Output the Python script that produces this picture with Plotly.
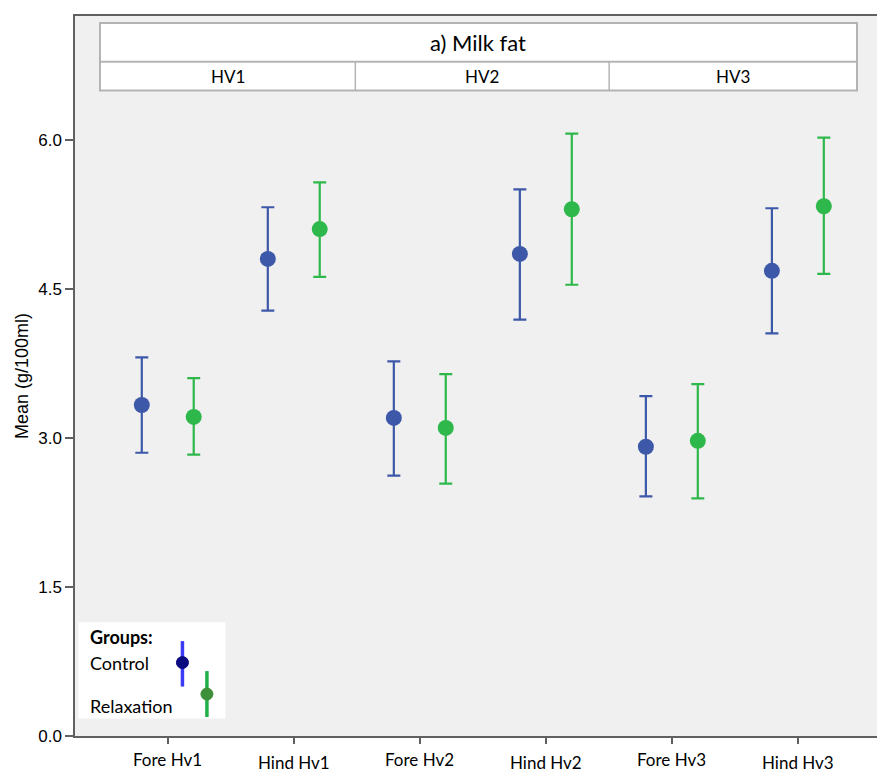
import plotly.graph_objects as go

categories = ["Fore Hv1", "Hind Hv1", "Fore Hv2", "Hind Hv2", "Fore Hv3", "Hind Hv3"]
control_mean = [3.33, 4.80, 3.20, 4.85, 2.91, 4.68]
control_upper = [3.81, 5.32, 3.77, 5.50, 3.42, 5.31]
control_lower = [2.85, 4.28, 2.62, 4.19, 2.41, 4.05]
relax_mean = [3.21, 5.10, 3.10, 5.30, 2.97, 5.33]
relax_upper = [3.60, 5.57, 3.64, 6.06, 3.54, 6.02]
relax_lower = [2.83, 4.62, 2.54, 4.54, 2.39, 4.65]
y_ticks = [0.0, 1.5, 3.0, 4.5, 6.0]
panel_labels = ["HV1", "HV2", "HV3"]
title_text = "a) Milk fat"

W, H = 877, 772
L, R, T, B = 74.5, 0, 15.7, 35.5
PW, PH = W - L - R, H - T - B

def px(x):
    return (x - L) / PW

def py(y):
    return (H - B - y) / PH

C_BLUE = "#3d58a8"
C_GREEN = "#2eb84b"
idx = list(range(len(categories)))
off = 0.206

fig = go.Figure()
fig.add_trace(go.Scatter(
    x=[i - off for i in idx], y=control_mean, mode="markers",
    marker=dict(color=C_BLUE, size=16),
    error_y=dict(type="data", symmetric=False,
                 array=[u - m for u, m in zip(control_upper, control_mean)],
                 arrayminus=[m - l for m, l in zip(control_mean, control_lower)],
                 color=C_BLUE, thickness=2.2, width=6.5),
    showlegend=False, name="Control"))
fig.add_trace(go.Scatter(
    x=[i + off for i in idx], y=relax_mean, mode="markers",
    marker=dict(color=C_GREEN, size=16),
    error_y=dict(type="data", symmetric=False,
                 array=[u - m for u, m in zip(relax_upper, relax_mean)],
                 arrayminus=[m - l for m, l in zip(relax_mean, relax_lower)],
                 color=C_GREEN, thickness=2.2, width=6.5),
    showlegend=False, name="Relaxation"))

shapes = []
annotations = []
# header box
hx0, hx1 = px(99.5), px(857)
hy0, hym, hy1 = py(22.7), py(61.5), py(90.3)
shapes.append(dict(type="rect", xref="paper", yref="paper", x0=hx0, x1=hx1, y0=hy1, y1=hy0,
                   fillcolor="white", line=dict(color="#b4b4b4", width=2), layer="above"))
shapes.append(dict(type="line", xref="paper", yref="paper", x0=hx0, x1=hx1, y0=hym, y1=hym,
                   line=dict(color="#b4b4b4", width=2), layer="above"))
for xd in [355, 609]:
    shapes.append(dict(type="line", xref="paper", yref="paper", x0=px(xd), x1=px(xd), y0=hym, y1=hy1,
                       line=dict(color="#b4b4b4", width=1.5), layer="above"))
annotations.append(dict(text=title_text, xref="paper", yref="paper", x=(hx0 + hx1) / 2, y=(hy0 + hym) / 2,
                        showarrow=False, font=dict(family="Lato", size=22, color="#000"),
                        xanchor="center", yanchor="middle"))
centers = [(99.5 + 355) / 2, (355 + 609) / 2, (609 + 857) / 2]
for c, lab in zip(centers, panel_labels):
    annotations.append(dict(text=lab, xref="paper", yref="paper", x=px(c), y=(hym + hy1) / 2,
                            showarrow=False, font=dict(family="Lato", size=17, color="#000"),
                            xanchor="center", yanchor="middle"))

# x category labels (staggered)
for i, cat in enumerate(categories):
    annotations.append(dict(text=cat, xref="x", yref="paper", x=i, y=0, yshift=-23 if i % 2 == 0 else -26,
                            showarrow=False, font=dict(family="Lato", size=17, color="#000"),
                            xanchor="center", yanchor="middle"))

# legend box
shapes.append(dict(type="rect", xref="paper", yref="paper", x0=px(78), x1=px(225), y0=py(719), y1=py(622.5),
                   fillcolor="white", line=dict(width=0), layer="above"))
shapes.append(dict(type="line", xref="paper", yref="paper", x0=px(182), x1=px(182), y0=py(687), y1=py(641.5),
                   line=dict(color="#3b3bf5", width=3.5), layer="above"))
shapes.append(dict(type="circle", xref="paper", yref="paper", x0=px(176), x1=px(188), y0=py(669), y1=py(657),
                   fillcolor="#0a0a80", line=dict(color="#0a0a80", width=1), layer="above"))
shapes.append(dict(type="line", xref="paper", yref="paper", x0=px(206.5), x1=px(206.5), y0=py(717.5), y1=py(671.5),
                   line=dict(color="#1fb04a", width=3.5), layer="above"))
shapes.append(dict(type="circle", xref="paper", yref="paper", x0=px(200.5), x1=px(212.5), y0=py(700.5), y1=py(688.5),
                   fillcolor="#3d8f3a", line=dict(color="#3d8f3a", width=1), layer="above"))
annotations.append(dict(text="<b>Groups:</b>", xref="paper", yref="paper", x=px(88), y=py(637.5),
                        showarrow=False, font=dict(family="Lato", size=18, color="#000"),
                        xanchor="left", yanchor="middle"))
annotations.append(dict(text="Control", xref="paper", yref="paper", x=px(88), y=py(663),
                        showarrow=False, font=dict(family="Lato", size=18, color="#000"),
                        xanchor="left", yanchor="middle"))
annotations.append(dict(text="Relaxation", xref="paper", yref="paper", x=px(88), y=py(706.5),
                        showarrow=False, font=dict(family="Lato", size=18, color="#000"),
                        xanchor="left", yanchor="middle"))

fig.update_layout(
    width=W, height=H, autosize=False,
    margin=dict(l=L, r=R, t=T, b=B, pad=0),
    paper_bgcolor="white", plot_bgcolor="#f0f0f0",
    shapes=shapes, annotations=annotations,
    xaxis=dict(range=[-0.736, 5.628], tickvals=idx, ticktext=[""] * len(idx),
               showgrid=False, zeroline=False, showline=True, linecolor="#606060", linewidth=1.5,
               mirror=True, ticks="outside", ticklen=6, tickcolor="#606060", tickwidth=1.5),
    yaxis=dict(range=[0, 7.244], tickvals=y_ticks, ticktext=[f"{v:.1f}" for v in y_ticks],
               showgrid=False, zeroline=False, showline=True, linecolor="#606060", linewidth=1.5,
               ticks="outside", ticklen=8, tickcolor="#606060", tickwidth=1.5,
               tickfont=dict(family="Liberation Sans", size=17, color="#000"),
               title=dict(text="Mean (g/100ml)", font=dict(family="Liberation Sans", size=18, color="#000"),
                          standoff=5)),
)

fig.write_html("out.html", config={"displayModeBar": False},
               post_script="document.body.style.margin='0';document.body.style.padding='0';document.body.style.overflow='hidden';")
